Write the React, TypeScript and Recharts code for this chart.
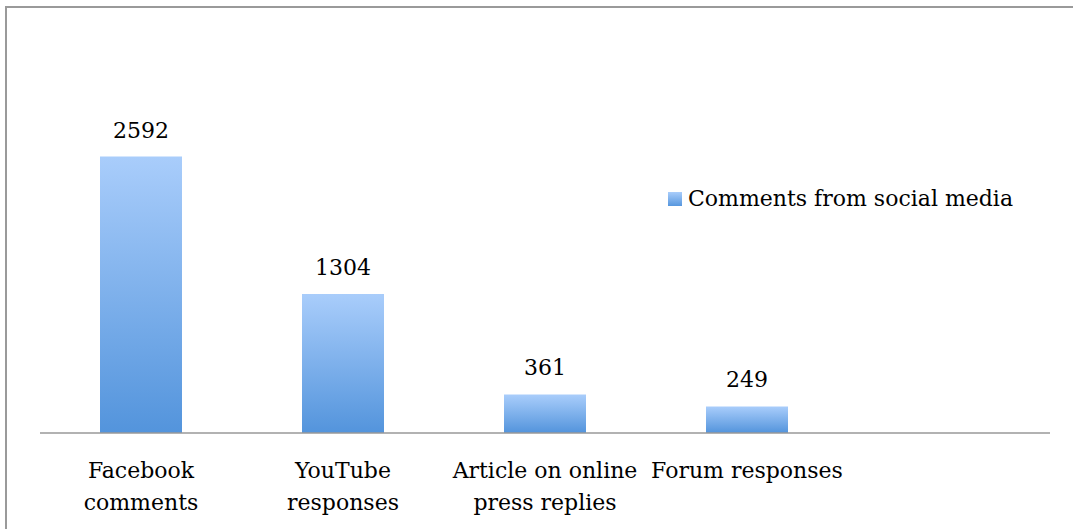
import React from "react";
import { BarChart, Bar, XAxis, YAxis, LabelList } from "recharts";

const categories = ["Facebook\ncomments", "YouTube\nresponses", "Article on online\npress replies", "Forum responses", ""];
const comments = [2592, 1304, 361, 249, null];
const seriesName = "Comments from social media";

const data = categories.map((name, i) => ({ name, comments: comments[i] }));

const FONT = "'DejaVu Serif', serif";

function CategoryTick({ x, y, payload }: any) {
  const lines = String(payload.value).split("\n");
  return (
    <text x={x} y={y} textAnchor="middle" fontFamily={FONT} fontSize={22} fill="#000">
      {lines.map((line: string, i: number) => (
        <tspan key={i} x={x} dy={i === 0 ? 45 : 32}>
          {line}
        </tspan>
      ))}
    </text>
  );
}

// legend drawn as an overlay so it doesn't eat into the plot area
function LegendBox() {
  return (
    <div
      style={{
        position: "absolute",
        left: 668,
        top: 186,
        display: "flex",
        alignItems: "center",
        fontFamily: FONT,
        fontSize: 22,
        color: "#000",
      }}
    >
      <span
        style={{
          display: "inline-block",
          width: 14,
          height: 14,
          marginRight: 6,
          background: "linear-gradient(#a9cdfb, #5797de)",
        }}
      />
      {seriesName}
    </div>
  );
}

export default function App() {
  return (
    <div style={{ position: "absolute", left: 0, top: 0, width: 1073, height: 529, background: "#fff", overflow: "hidden" }}>
      <div
        style={{
          position: "absolute",
          left: 5,
          top: 6,
          right: -10,
          bottom: -10,
          borderTop: "2px solid #9a9a9a",
          borderLeft: "2px solid #9a9a9a",
        }}
      />
      <BarChart width={1073} height={529} data={data} margin={{ top: 113, right: 23, bottom: 0, left: 40 }}>
        <defs>
          <linearGradient id="barFill" x1="0" y1="0" x2="0" y2="1">
            <stop offset="0%" stopColor="#a9cdfb" />
            <stop offset="100%" stopColor="#5394dc" />
          </linearGradient>
        </defs>
        <YAxis hide domain={[0, 3000]} />
        <XAxis
          dataKey="name"
          height={96}
          interval={0}
          axisLine={{ stroke: "#999", strokeWidth: 1.5 }}
          tickLine={false}
          tickSize={0}
          tickMargin={0}
          tick={<CategoryTick />}
        />
        <Bar dataKey="comments" name={seriesName} barSize={82} fill="url(#barFill)" isAnimationActive={false}>
          <LabelList dataKey="comments" position="top" offset={19} fontFamily={FONT} fontSize={22} fill="#000" />
        </Bar>
      </BarChart>
      <LegendBox />
    </div>
  );
}
